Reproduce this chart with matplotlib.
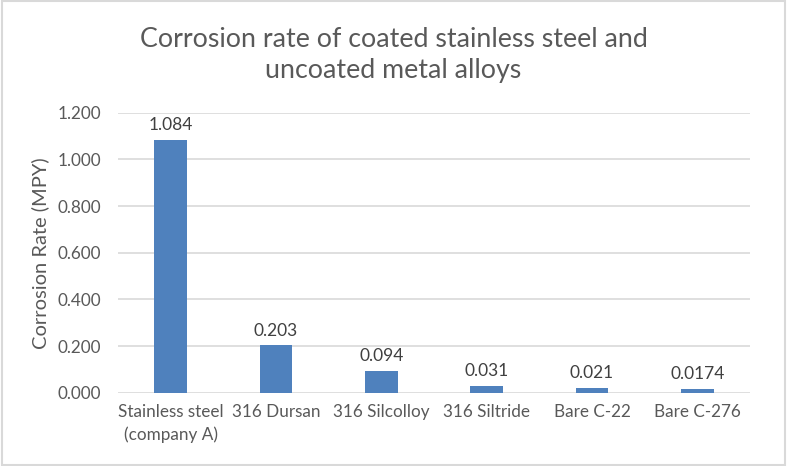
import matplotlib
matplotlib.use('Agg')
import matplotlib.pyplot as plt
from matplotlib.patches import Rectangle

# data
categories = ['Stainless steel\n(company A)', '316 Dursan', '316 Silcolloy',
              '316 Siltride', 'Bare C-22', 'Bare C-276']
rates = [1.084, 0.203, 0.094, 0.031, 0.021, 0.0174]
value_labels = ['1.084', '0.203', '0.094', '0.031', '0.021', '0.0174']
yticks = [0.0, 0.2, 0.4, 0.6, 0.8, 1.0, 1.2]

text_color = '#595959'
grid_color = '#D9D9D9'
bar_color = '#4F81BD'

plt.rcParams['font.family'] = ['Lato', 'DejaVu Sans']

fig = plt.figure(figsize=(7.87, 4.66), dpi=100)
ax = fig.add_axes([0.150, 0.157, 0.803, 0.601])

x = range(len(categories))
ax.bar(x, rates, width=0.31, color=bar_color, zorder=3)

for xi, v, lab in zip(x, rates, value_labels):
    ax.annotate(lab, (xi, v), xytext=(0, 5), textcoords='offset points',
                ha='center', va='bottom', fontsize=12.5, color='#404040')

ax.set_xlim(-0.5, len(categories) - 0.5)
ax.set_ylim(0, 1.2)
ax.set_yticks(yticks)
ax.set_yticklabels(['%.3f' % t for t in yticks])
ax.set_xticks(list(x))
ax.set_xticklabels(categories, linespacing=1.45)
ax.tick_params(axis='both', length=0, labelsize=12.3, labelcolor=text_color)
ax.tick_params(axis='x', pad=8)
ax.tick_params(axis='y', pad=12)
ax.grid(axis='y', color=grid_color, linewidth=1.2, zorder=0)
for s in ax.spines.values():
    s.set_visible(False)

ax.set_ylabel('Corrosion Rate (MPY)', fontsize=14.5, color=text_color, labelpad=6)

fig.text(0.5, 0.882, 'Corrosion rate of coated stainless steel and\nuncoated metal alloys',
         ha='center', va='center', fontsize=19.3, color=text_color, linespacing=1.3)

# chart border
fig.patches.append(Rectangle((0.002, 0.003), 0.996, 0.994, transform=fig.transFigure,
                             fill=False, edgecolor=grid_color, linewidth=1.5))

fig.savefig('out.png', dpi=100)
